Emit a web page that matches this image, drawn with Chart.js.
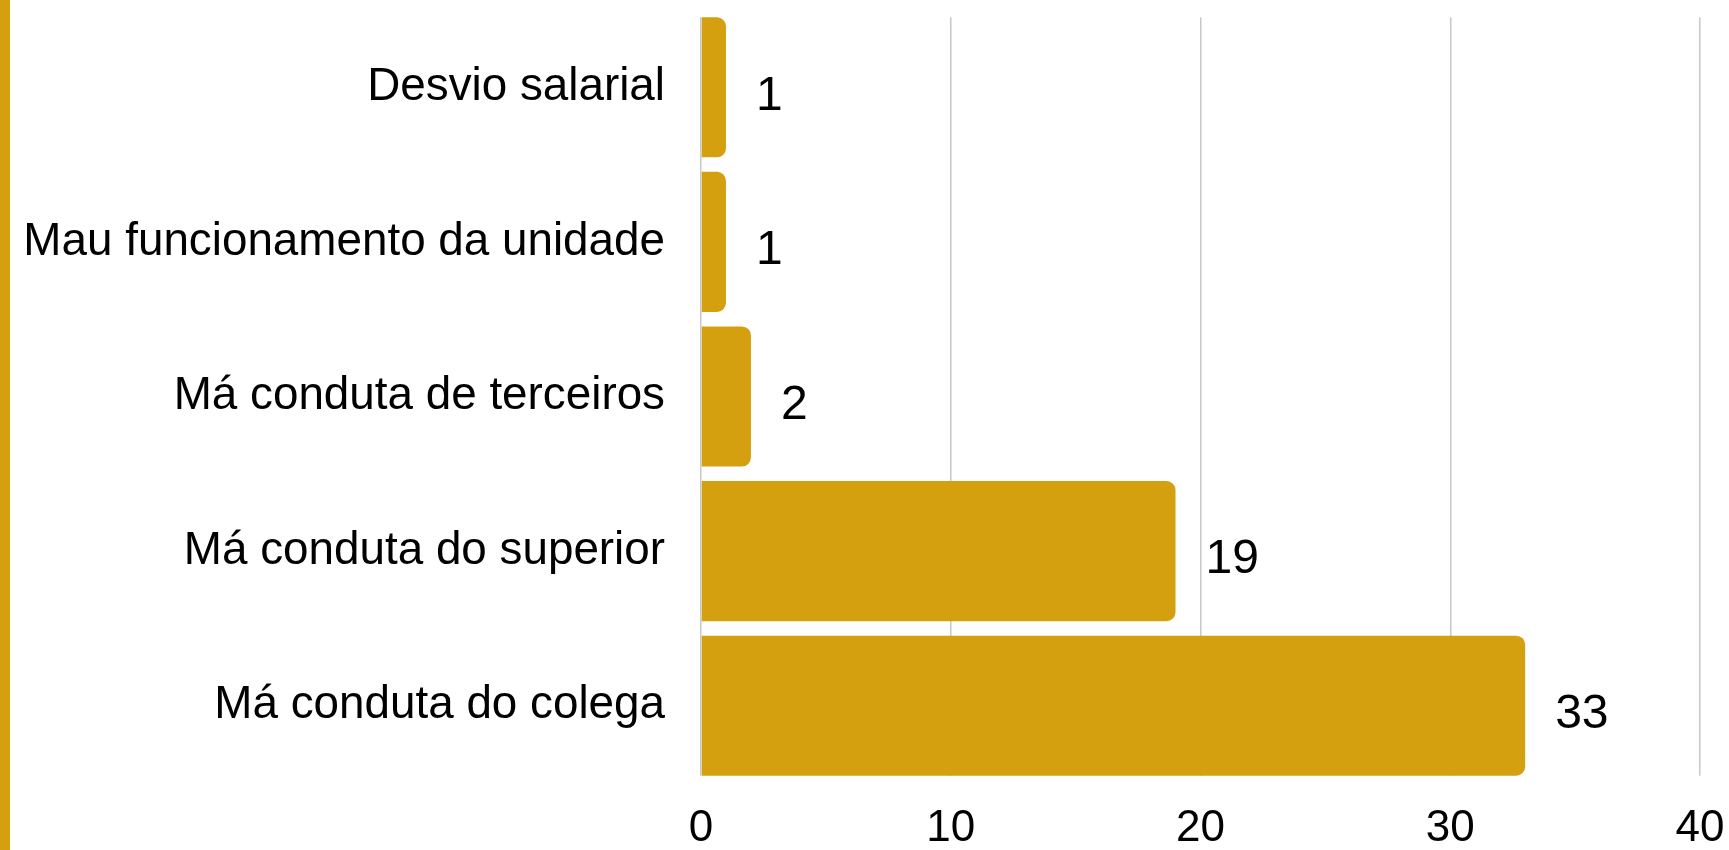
<!DOCTYPE html>
<html>
<head>
<meta charset="utf-8">
<script src="https://cdn.jsdelivr.net/npm/chart.js"></script>
<style>
  html, body { margin: 0; padding: 0; background: #fff; }
  #faixa { position: absolute; left: 0; top: 0; width: 10px; height: 850px; background: #d5a00f; }
  #grafico { position: absolute; left: 0; top: 0; }
</style>
</head>
<body>
<div id="faixa"></div>
<canvas id="grafico" width="1729" height="850"></canvas>
<script>
// Dados do gráfico
const categorias = [
  'Desvio salarial',
  'Mau funcionamento da unidade',
  'Má conduta de terceiros',
  'Má conduta do superior',
  'Má conduta do colega'
];
const valores = [1, 1, 2, 19, 33];
const ticksX = [0, 10, 20, 30, 40];

const corBarra = '#d5a00f';
const fonte = '"Liberation Sans", Arial, sans-serif';

// Plugin para escrever o valor ao lado de cada barra
const rotulos = {
  id: 'rotulos',
  afterDatasetsDraw(chart) {
    const ctx = chart.ctx;
    const meta = chart.getDatasetMeta(0);
    ctx.save();
    ctx.font = '48px ' + fonte;
    ctx.fillStyle = '#000';
    ctx.textAlign = 'left';
    ctx.textBaseline = 'middle';
    meta.data.forEach((barra, i) => {
      ctx.fillText(String(valores[i]), barra.x + 30, barra.y + 9);
    });
    ctx.restore();
  }
};

// Plugin para cortar as linhas de grade acima da primeira e abaixo da última barra
const cortaGrade = {
  id: 'cortaGrade',
  beforeDatasetsDraw(chart) {
    const area = chart.chartArea;
    const barras = chart.getDatasetMeta(0).data;
    const primeira = barras[0];
    const ultima = barras[barras.length - 1];
    const topo = primeira.y - primeira.height / 2;
    const fundo = ultima.y + ultima.height / 2;
    const ctx = chart.ctx;
    ctx.save();
    ctx.fillStyle = '#fff';
    ctx.fillRect(area.left - 2, area.top, area.right - area.left + 4, topo - area.top);
    ctx.fillRect(area.left - 2, fundo, area.right - area.left + 4, area.bottom - fundo);
    ctx.restore();
  }
};

const ctx = document.getElementById('grafico').getContext('2d');
new Chart(ctx, {
  type: 'bar',
  data: {
    labels: categorias,
    datasets: [{
      data: valores,
      backgroundColor: corBarra,
      borderWidth: 0,
      borderRadius: 9,
      borderSkipped: 'start',
      categoryPercentage: 1,
      barPercentage: 0.906
    }]
  },
  options: {
    indexAxis: 'y',
    responsive: false,
    animation: false,
    layout: { padding: { top: 10, right: 29, bottom: 0, left: 0 } },
    plugins: {
      legend: { display: false },
      tooltip: { enabled: false }
    },
    scales: {
      x: {
        min: ticksX[0],
        max: ticksX[ticksX.length - 1],
        afterBuildTicks: (scale) => { scale.ticks = ticksX.map(v => ({ value: v })); },
        afterFit: (scale) => { scale.paddingLeft = 0; scale.paddingRight = 0; scale.height = 67; },
        border: { display: false },
        grid: { color: '#c8c8c8', lineWidth: 1.5, drawTicks: false },
        ticks: {
          color: '#000',
          padding: 19,
          maxRotation: 0,
          font: { family: fonte, size: 44 }
        }
      },
      y: {
        afterFit: (scale) => { scale.width = 701; scale.paddingTop = 0; scale.paddingBottom = 0; },
        border: { display: false },
        grid: { display: false, drawTicks: false },
        ticks: {
          color: '#000',
          padding: 36,
          font: { family: fonte, size: 45.8 }
        }
      }
    }
  },
  plugins: [rotulos, cortaGrade]
});
</script>
</body>
</html>
